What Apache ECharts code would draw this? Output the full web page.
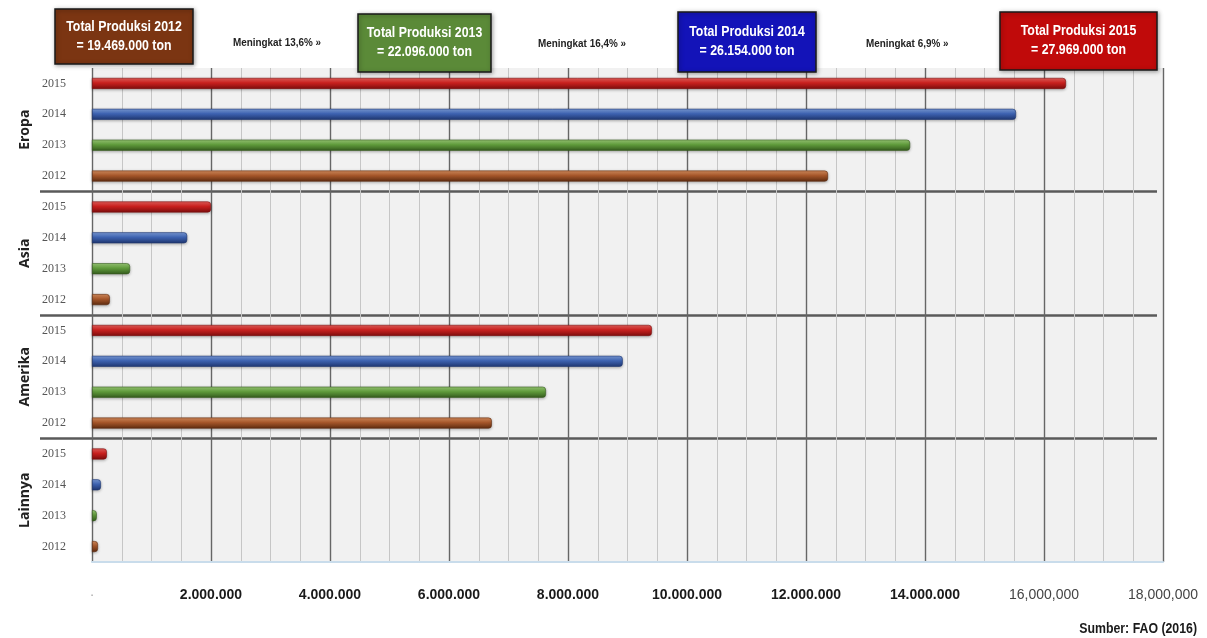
<!DOCTYPE html>
<html>
<head>
<meta charset="utf-8">
<script src="https://cdn.jsdelivr.net/npm/echarts@6/dist/echarts.min.js"></script>
<style>
html,body{margin:0;padding:0;background:#fff;}
#chart{width:1207px;height:638px;}
</style>
</head>
<body>
<div id="chart"></div>
<script>
// ---- data ----
const regions = ['Eropa', 'Asia', 'Amerika', 'Lainnya'];
const years = ['2015', '2014', '2013', '2012'];
// values per year, in the order of regions
const prod2015 = [16370000, 2000000, 9410000, 250000];
const prod2014 = [15530000, 1600000, 8920000, 150000];
const prod2013 = [13750000, 640000, 7630000, 80000];
const prod2012 = [12370000, 300000, 6720000, 100000];
const tickLabels = ['·', '2.000.000', '4.000.000', '6.000.000', '8.000.000', '10.000.000', '12.000.000', '14.000.000', '16,000,000', '18,000,000'];
const totalsText = ['Total Produksi 2012\n= 19.469.000 ton', 'Total Produksi 2013\n= 22.096.000 ton', 'Total Produksi 2014\n= 26.154.000 ton', 'Total Produksi 2015\n= 27.969.000 ton'];
const growthText = ['Meningkat 13,6% »', 'Meningkat 16,4% »', 'Meningkat 6,9% »'];
const sourceText = 'Sumber: FAO (2016)';

const byYear = {'2015': prod2015, '2014': prod2014, '2013': prod2013, '2012': prod2012};
const yearColors = {
  '2015': ['#e8605c', '#c8201e', '#7e0d0d'],
  '2014': ['#7d9fdc', '#3d62b0', '#1f3670'],
  '2013': ['#9ccc78', '#5f9a3b', '#355c1e'],
  '2012': ['#d99060', '#a5562a', '#5e2c10']
};

const rowLabels = [];
const barData = [];
regions.forEach((r, ri) => {
  years.forEach(y => {
    rowLabels.push(y);
    const c = yearColors[y];
    barData.push({
      value: byYear[y][ri],
      itemStyle: {
        color: new echarts.graphic.LinearGradient(0, 0, 0, 1, [
          {offset: 0, color: c[0]}, {offset: 0.45, color: c[1]}, {offset: 1, color: c[2]}
        ]),
        borderColor: c[2], borderWidth: 0.6, borderRadius: [0, 3, 3, 0]
      }
    });
  });
});

const FONT = '"Liberation Sans", Arial, sans-serif';

const chart = echarts.init(document.getElementById('chart'));

function box(x, y, w, h, fill, text) {
  return {
    type: 'group', x: x, y: y, z: 100, children: [
      {type: 'rect', z: 100, shape: {x: 0, y: 0, width: w, height: h},
       style: {fill: fill, stroke: '#1a1a1a', lineWidth: 1.5, shadowBlur: 4, shadowColor: 'rgba(0,0,0,0.35)', shadowOffsetX: 1, shadowOffsetY: 1}},
      {type: 'text', z: 101, x: w / 2, y: h / 2, scaleX: 0.88,
       style: {text: text, fill: '#fff', font: 'bold 14px ' + FONT, align: 'center', verticalAlign: 'middle', lineHeight: 19}}
    ]
  };
}
function smallText(x, y, t) {
  return {type: 'text', z: 100, x: x, y: y, scaleX: 0.86, style: {text: t, fill: '#222', font: 'bold 11.5px ' + FONT, align: 'left', verticalAlign: 'middle'}};
}

const option = {
  backgroundColor: '#ffffff',
  animation: false,
  grid: [
    {left: 92, right: 44, top: 68, bottom: 76, show: true, backgroundColor: '#f1f1f1', borderWidth: 0},
    {left: 40, right: 50, top: 68, bottom: 76, show: false}
  ],
  xAxis: [
    {
      type: 'value', gridIndex: 0, min: 0, max: 18000000, interval: 2000000,
      axisLine: {show: true, lineStyle: {color: '#c9dceb', width: 2}},
      axisTick: {show: false},
      splitLine: {show: true, lineStyle: {color: '#666666', width: 1.4}},
      minorTick: {show: false, splitNumber: 4},
      minorSplitLine: {show: true, lineStyle: {color: '#c6c6c6', width: 1}},
      axisLabel: {
        margin: 26,
        formatter: function (v) {
          const i = Math.round(v / 2000000);
          const t = tickLabels[i];
          if (i === 0) return '{z|' + t + '}';
          return i >= 8 ? '{n|' + t + '}' : '{b|' + t + '}';
        },
        rich: {
          b: {fontFamily: FONT, fontWeight: 'bold', fontSize: 14, color: '#1a1a1a'},
          n: {fontFamily: FONT, fontWeight: 'normal', fontSize: 14, color: '#444'},
          z: {fontFamily: FONT, fontSize: 14, color: '#aaa'}
        }
      }
    },
    {type: 'value', gridIndex: 1, min: 0, max: 1, show: false}
  ],
  yAxis: [
    {
      type: 'category', gridIndex: 0, data: rowLabels, inverse: true,
      axisLine: {show: false}, axisTick: {show: false},
      axisLabel: {margin: 26, fontFamily: '"Liberation Serif", serif', fontSize: 12, color: '#555'}
    },
    {
      type: 'category', gridIndex: 1, data: regions, inverse: true,
      axisLine: {show: false}, axisTick: {show: false},
      splitLine: {show: true, lineStyle: {color: ['rgba(0,0,0,0)', '#5a5a5a', '#5a5a5a', '#5a5a5a', 'rgba(0,0,0,0)'], width: 2.5}},
      axisLabel: {margin: 8, rotate: 90, fontFamily: '"Open Sans", "DejaVu Sans", sans-serif', fontWeight: 'bold', fontSize: 14, color: '#222'}
    }
  ],
  series: [
    {
      type: 'bar', xAxisIndex: 0, yAxisIndex: 0, data: barData, barWidth: 11, z: 3,
      itemStyle: {shadowBlur: 3, shadowColor: 'rgba(0,0,0,0.3)', shadowOffsetY: 1}
    }
  ],
  graphic: [
    box(55, 9, 138, 55, '#7b3512', totalsText[0]),
    smallText(233, 43, growthText[0]),
    box(358, 14, 133, 58, '#5b8a38', totalsText[1]),
    smallText(538, 44, growthText[1]),
    box(678, 12, 138, 60, '#1313b8', totalsText[2]),
    smallText(866, 44, growthText[2]),
    box(1000, 12, 157, 58, '#c00a0a', totalsText[3]),
    {type: 'text', z: 100, x: 1197, y: 629, scaleX: 0.88, style: {text: sourceText, fill: '#1a1a1a', font: 'bold 14px ' + FONT, align: 'right', verticalAlign: 'middle'}}
  ]
};
chart.setOption(option);
</script>
</body>
</html>
